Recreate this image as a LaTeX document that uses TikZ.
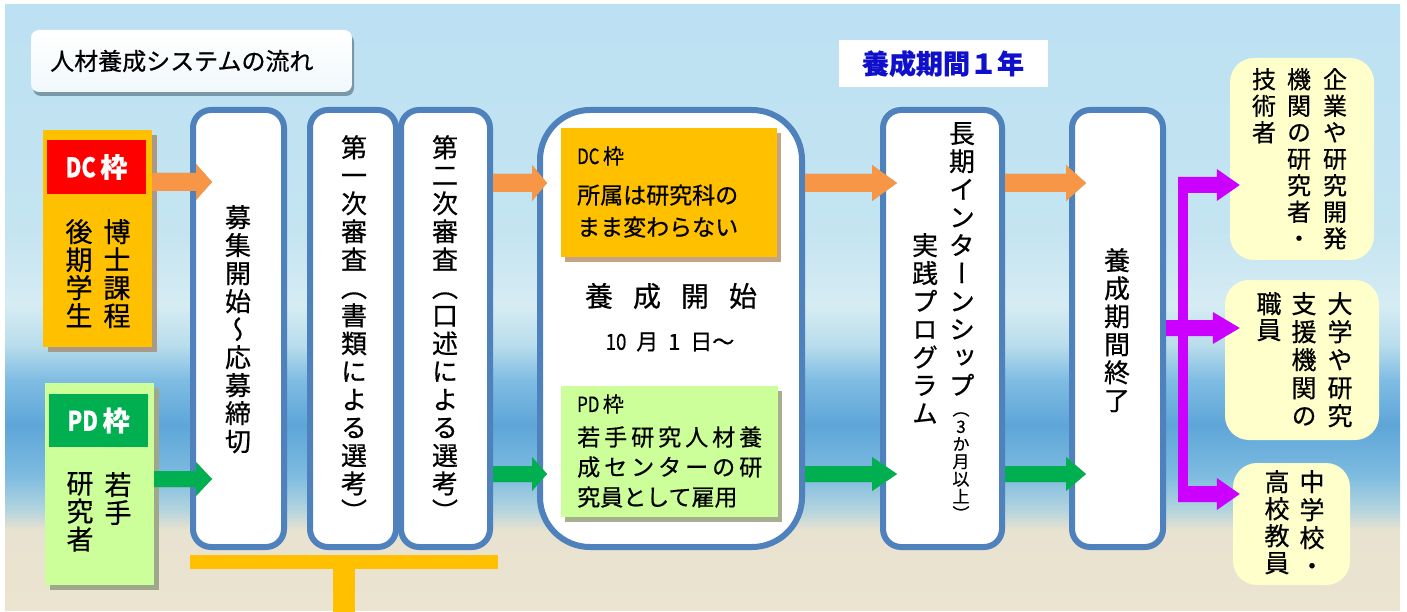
\documentclass[tikz,border=0pt]{standalone}
\usepackage{fontspec}
\setmainfont{Noto Sans CJK JP}[FakeBold=0.6]
\newfontfamily\vjp[RawFeature=+vert,FakeBold=0.6]{Noto Sans CJK JP}
\usetikzlibrary{calc,shadows}
\definecolor{bluebd}{HTML}{4F81BD}
\definecolor{orgbox}{HTML}{FFC000}
\definecolor{pdlight}{HTML}{CCFF99}
\definecolor{arrorange}{HTML}{F79646}
\definecolor{arrgreen}{HTML}{00B050}
\definecolor{purp}{HTML}{CC00FF}
\definecolor{ylw}{HTML}{FFFFCC}
\definecolor{ttlblue}{HTML}{1010CC}
\definecolor{arrshad}{HTML}{7A907C}
\definecolor{dcshad}{HTML}{A89A88}
\definecolor{pdshad}{HTML}{A0A88C}
\definecolor{dcinshad}{HTML}{C4A486}
\definecolor{pdinshad}{HTML}{A8AE90}
\definecolor{ttlshad}{HTML}{7B98A8}
\definecolor{bgA}{HTML}{BCE1F2}
\definecolor{bgB}{HTML}{C4E4F1}
\definecolor{bgC}{HTML}{D6ECF3}
\definecolor{bgD}{HTML}{B9DDEC}
\definecolor{bgE}{HTML}{7FBCE3}
\definecolor{bgF}{HTML}{5EA6D8}
\definecolor{bgG}{HTML}{7DBBE0}
\definecolor{bgH}{HTML}{B3D4DE}
\definecolor{bgI}{HTML}{E8E2D0}
\definecolor{bgJ}{HTML}{ECE4D0}
\ExplSyntaxOn
\NewDocumentCommand \vt { O{28pt} m }
  {
    \vbox
      {
        \baselineskip=#1 \relax
        \lineskiplimit=-100pt \relax
        \tl_map_inline:nn {#2} { \hbox_to_wd:nn {1em} { \hss ##1 \hss } }
      }
  }
\NewDocumentCommand \spreadtxt { m m }
  {
    \hbox_to_wd:nn {#1} { \tl_map_inline:nn {#2} { ##1 \hfil } \unskip }
  }
\ExplSyntaxOff
% block arrow: start, end, colour, head length, shaft half, head half
\newcommand\barr[6]{%
  \fill[arrshad,opacity=.85,shift={(4,5)}] ($(#1)+(0,-#5)$) -- ($(#2)+(-#4,-#5)$) -- ($(#2)+(-#4,-#6)$) -- (#2) -- ($(#2)+(-#4,#6)$) -- ($(#2)+(-#4,#5)$) -- ($(#1)+(0,#5)$) -- cycle;
  \fill[#3] ($(#1)+(0,-#5)$) -- ($(#2)+(-#4,-#5)$) -- ($(#2)+(-#4,-#6)$) -- (#2) -- ($(#2)+(-#4,#6)$) -- ($(#2)+(-#4,#5)$) -- ($(#1)+(0,#5)$) -- cycle;}
\newcommand\parr[3]{%
  \fill[purp] ($(#1)+(0,-8)$) -- ($(#2)+(-#3,-8)$) -- ($(#2)+(-#3,-16)$) -- (#2) -- ($(#2)+(-#3,16)$) -- ($(#2)+(-#3,8)$) -- ($(#1)+(0,8)$) -- cycle;}
\tikzset{
  bbox/.style={draw=bluebd, line width=6pt, fill=white, rounded corners=18pt, inner sep=0pt, minimum height=437pt},
  vtx/.style={anchor=north, inner sep=0pt, font=\vjp\fontsize{26}{28}\selectfont},
  vtr/.style={anchor=north, inner sep=0pt, font=\vjp\fontsize{25}{28}\selectfont},
  ybox/.style={fill=ylw, rounded corners=24pt, inner sep=0pt},
  htx/.style={anchor=west, inner sep=0pt, font=\fontsize{23}{26}\selectfont},
}
\begin{document}
\begin{tikzpicture}[x=1pt,y=-1pt]
\useasboundingbox (0,0) rectangle (1407,612);
\fill[white] (0,0) rectangle (1407,612);
% background (sky, sea, sand)
\fill[top color=bgA, bottom color=bgB] (5,5) rectangle (1400,230);
\fill[top color=bgB, bottom color=bgC] (5,230) rectangle (1400,305);
\fill[top color=bgC, bottom color=bgD] (5,305) rectangle (1400,345);
\fill[top color=bgD, bottom color=bgE] (5,345) rectangle (1400,380);
\fill[top color=bgE, bottom color=bgF] (5,380) rectangle (1400,425);
\fill[top color=bgF, bottom color=bgG] (5,425) rectangle (1400,475);
\fill[top color=bgG, bottom color=bgH] (5,475) rectangle (1400,510);
\fill[top color=bgH, bottom color=bgI] (5,510) rectangle (1400,530);
\fill[top color=bgI, bottom color=bgJ] (5,530) rectangle (1400,610);

% title
\node[draw=none, rounded corners=8pt, top color=white, bottom color=white!80!bgD,
      minimum width=321pt, minimum height=62pt, inner sep=0pt,
      drop shadow={shadow xshift=2pt, shadow yshift=-4pt, fill=ttlshad, opacity=1}]
      (title) at (191.5,61) {};
\node[anchor=west, inner sep=0pt, font=\fontsize{24}{26}\selectfont] (titletxt) at (50,61) {人材養成システムの流れ};
\node[fill=white, minimum width=209pt, minimum height=47pt, inner sep=0pt,
      font=\bfseries\fontsize{27}{28}\selectfont, text=ttlblue] (period) at (943,63.5) {養成期間１年};

% DC / PD boxes (left)
\node[fill=orgbox, minimum width=109pt, minimum height=217pt, inner sep=0pt,
      drop shadow={shadow xshift=5pt, shadow yshift=-5pt, fill=dcshad, opacity=1}] (dc) at (97.5,238.5) {};
\node[fill=red, minimum width=99pt, minimum height=54pt, inner sep=0pt, text=white,
      font=\bfseries\fontsize{27}{28}\selectfont] (dclab) at (96.5,167) {\scalebox{0.8}[1]{DC}\,枠};
\node[vtx, font=\vjp\fontsize{27}{28}\selectfont] (dc1) at (117,219) {\vt{博士課程}};
\node[vtx, font=\vjp\fontsize{27}{28}\selectfont] (dc2) at (79,219) {\vt{後期学生}};

\node[fill=pdlight, minimum width=109pt, minimum height=202pt, inner sep=0pt,
      drop shadow={shadow xshift=5pt, shadow yshift=-5pt, fill=pdshad, opacity=1}] (pd) at (99.5,484) {};
\node[fill=arrgreen, minimum width=99pt, minimum height=53pt, inner sep=0pt, text=white,
      font=\bfseries\fontsize{27}{28}\selectfont] (pdlab) at (98.5,420.5) {\scalebox{0.8}[1]{PD}\,枠};
\node[vtx, font=\vjp\fontsize{27}{28}\selectfont] (pd1) at (118,472) {\vt{若手}};
\node[vtx, font=\vjp\fontsize{27}{28}\selectfont] (pd2) at (80,472) {\vt{研究者}};

% blue process boxes
\node[bbox, minimum width=91pt] (b1) at (238.5,328.5) {};
\node[bbox, minimum width=86pt] (b2) at (353,328.5) {};
\node[bbox, minimum width=89pt] (b3) at (445.5,328.5) {};
\node[bbox, minimum width=262pt, rounded corners=50pt] (b4) at (671,328.5) {};
\node[bbox, minimum width=119pt] (b5) at (942.5,328.5) {};
\node[bbox, minimum width=91pt] (b6) at (1117.5,328.5) {};

\node[vtx] (t1) at (238,205) {\vt{募集開始～応募締切}};
\node[vtx] (t2) at (354,135) {\vt{第一次審査（書類による選考）}};
\node[vtx] (t3) at (445,135) {\vt{第二次審査（口述による選考）}};
\node[vtx] (t5a) at (962,122) {\vt{長期インターンシップ}};
\node[vtx, font=\vjp\fontsize{17}{18}\selectfont] (t5b) at (961,412) {\vt[17.5pt]{（3か月以上）}};
\node[vtx] (t5c) at (925,233) {\vt{実践プログラム}};
\node[vtx] (t6) at (1117,248) {\vt{養成期間終了}};

% inside box 4
\node[fill=orgbox, minimum width=216pt, minimum height=129pt, inner sep=0pt,
      drop shadow={shadow xshift=4pt, shadow yshift=-5pt, fill=dcinshad, opacity=1}] (dcin) at (669,192.5) {};
\node[htx, font=\fontsize{21}{24}\selectfont] (dcint) at (577,156) {\scalebox{0.8}[1]{DC}\,枠};
\node[htx] (dcin1) at (577,195) {所属は研究科の};
\node[htx] (dcin2) at (577,227) {まま変わらない};
\node[inner sep=0pt, font=\fontsize{28}{30}\selectfont] (start) at (671,296) {\spreadtxt{172pt}{養成開始}};
\node[inner sep=0pt, font=\fontsize{22}{24}\selectfont] (date) at (670,342) {\scalebox{0.85}[1]{10}\hspace{0.45em}月\hspace{0.45em}1\hspace{0.45em}日～};
\node[fill=pdlight, minimum width=217pt, minimum height=131pt, inner sep=0pt,
      drop shadow={shadow xshift=4pt, shadow yshift=-5pt, fill=pdinshad, opacity=1}] (pdin) at (669.5,451.5) {};
\node[htx, font=\fontsize{21}{24}\selectfont] (pdint) at (577,404) {\scalebox{0.8}[1]{PD}\,枠};
\node[htx] (pdin1) at (577,437) {\spreadtxt{185pt}{若手研究人材養}};
\node[htx] (pdin2) at (577,467) {\spreadtxt{185pt}{成センターの研}};
\node[htx] (pdin3) at (577,497) {究員として雇用};

% career boxes
\node[ybox, minimum width=144pt, minimum height=202pt] (r1) at (1302,159) {};
\node[ybox, minimum width=154pt, minimum height=160pt] (r2) at (1302,360) {};
\node[ybox, minimum width=117pt, minimum height=122pt] (r3) at (1291.5,524) {};
\node[vtr, font=\vjp\fontsize{24}{26}\selectfont] (r1a) at (1335,68) {\vt[26.5pt]{企業や研究開発}};
\node[vtr, font=\vjp\fontsize{24}{26}\selectfont] (r1b) at (1299,68) {\vt[26.5pt]{機関の研究者・}};
\node[vtr, font=\vjp\fontsize{24}{26}\selectfont] (r1c) at (1264,68) {\vt[26.5pt]{技術者}};
\node[vtr] (r2a) at (1340,292) {\vt{大学や研究}};
\node[vtr] (r2b) at (1304,292) {\vt{支援機関の}};
\node[vtr] (r2c) at (1269,292) {\vt[26pt]{職員}};
\node[vtr] (r3a) at (1312,470) {\vt{中学校・}};
\node[vtr] (r3b) at (1277,470) {\vt[27pt]{高校教員}};

% orange arrows
\coordinate (o1s) at (dc.east |- 0,182);  \coordinate (o1e) at ($(b1.west |- 0,182)+(22,0)$);
\coordinate (o2s) at (b3.east |- 0,183);  \coordinate (o2e) at ($(b4.west |- 0,183)+(10,0)$);
\coordinate (o3s) at (b4.east |- 0,183);  \coordinate (o3e) at ($(b5.west |- 0,183)+(17,0)$);
\coordinate (o4s) at (b5.east |- 0,183);  \coordinate (o4e) at ($(b6.west |- 0,183)+(17,0)$);
\barr{o1s}{o1e}{arrorange}{16}{9}{18}
\barr{o2s}{o2e}{arrorange}{15}{9}{18}
\barr{o3s}{o3e}{arrorange}{25}{9}{18}
\barr{o4s}{o4e}{arrorange}{20}{9}{18}
% green arrows
\coordinate (g1s) at (pd.east |- 0,479);  \coordinate (g1e) at ($(b1.west |- 0,479)+(22,0)$);
\coordinate (g2s) at (b3.east |- 0,474);  \coordinate (g2e) at ($(b4.west |- 0,474)+(10,0)$);
\coordinate (g3s) at (b4.east |- 0,474);  \coordinate (g3e) at ($(b5.west |- 0,474)+(17,0)$);
\coordinate (g4s) at (b5.east |- 0,474);  \coordinate (g4e) at ($(b6.west |- 0,474)+(17,0)$);
\barr{g1s}{g1e}{arrgreen}{16}{8}{17}
\barr{g2s}{g2e}{arrgreen}{15}{8}{17}
\barr{g3s}{g3e}{arrgreen}{25}{8}{17}
\barr{g4s}{g4e}{arrgreen}{20}{8}{17}

% purple distribution
\coordinate (pt) at (1178,185);
\coordinate (pb) at (1178,494);
\fill[purp] (1178,177) rectangle (1188,502);
\coordinate (p1e) at ($(r1.west |- pt)+(10,0)$);
\coordinate (p2s) at (b6.east |- 0,328);  \coordinate (p2e) at ($(r2.west |- 0,328)+(15,0)$);
\coordinate (p3e) at ($(r3.west |- pb)+(7,0)$);
\parr{pt}{p1e}{23}
\parr{p2s}{p2e}{27}
\parr{pb}{p3e}{23}

% yellow bracket under the selection steps
\fill[orgbox] (190,555) rectangle (498,569);
\fill[orgbox] (333,569) rectangle (355,612);
\end{tikzpicture}
\end{document}
